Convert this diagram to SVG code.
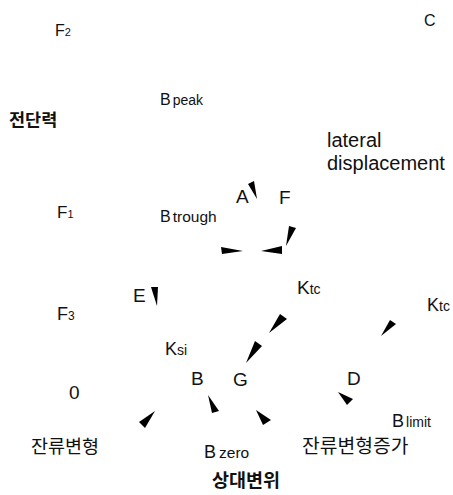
<svg xmlns="http://www.w3.org/2000/svg" width="453" height="495" viewBox="0 0 453 495">
<style>
text{font-family:"Liberation Sans",Arial,sans-serif;fill:#111;}
.m{font-size:19px;}
.s{font-size:14px;}
.ko{font-family:"Noto Sans CJK KR","Noto Sans",sans-serif;fill:#111;}
.b{font-weight:bold;}
.ah{fill:#000;stroke:none;}
</style>
<rect width="453" height="495" fill="#fff"/>
<g id="connectors">
<polygon class="ah" points="248,184 254,181 257,199"/>
<polygon class="ah" points="289,226 296,228 286,246"/>
<polygon class="ah" points="221,247 222,254 243,251"/>
<polygon class="ah" points="261,251 282,246 282,254"/>
<polygon class="ah" points="151,287 158,287 157,306"/>
<polygon class="ah" points="280,314 287,319 269,333"/>
<polygon class="ah" points="255,341 262,346 246,363"/>
<polygon class="ah" points="390,320 396,324 381,336"/>
<polygon class="ah" points="139,422 145,428 155,411"/>
<polygon class="ah" points="208,395 212,413 219,411"/>
<polygon class="ah" points="256,410 263,425 271,420"/>
<polygon class="ah" points="338,392 347,405 353,399"/>
</g>
<g id="F2"><text x="55" y="36" font-size="16">F<tspan font-size="11">2</tspan></text></g>
<g id="C"><text x="424" y="26" font-size="16">C</text></g>
<g id="Bpeak"><text x="160" y="105" font-size="16">B<tspan dx="2" font-size="14">peak</tspan></text></g>
<g id="shear"><text class="ko b" x="9" y="126" font-size="17.5">전단력</text></g>
<g id="lateral"><text x="327" y="147" font-size="20">lateral</text><text x="327" y="170" font-size="20">displacement</text></g>
<g id="A"><text class="m" x="236" y="203">A</text></g>
<g id="F"><text class="m" x="279" y="204">F</text></g>
<g id="F1"><text x="57" y="218" font-size="17">F<tspan font-size="11">1</tspan></text></g>
<g id="Btrough"><text x="160" y="222" font-size="16">B<tspan dx="2" font-size="15.5">trough</tspan></text></g>
<g id="E"><text class="m" x="133" y="302">E</text></g>
<g id="F3"><text x="57" y="320" font-size="18">F<tspan font-size="12">3</tspan></text></g>
<g id="Ktc1"><text x="297" y="294" font-size="19">K<tspan class="s">tc</tspan></text></g>
<g id="Ktc2"><text x="427" y="311" font-size="18">K<tspan class="s">tc</tspan></text></g>
<g id="Ksi"><text x="165" y="355" font-size="18">K<tspan class="s">si</tspan></text></g>
<g id="B"><text class="m" x="191" y="385">B</text></g>
<g id="G"><text class="m" x="233" y="386">G</text></g>
<g id="D"><text class="m" x="347" y="385">D</text></g>
<g id="O"><text class="m" x="69" y="399">0</text></g>
<g id="Blimit"><text x="392" y="427" font-size="18">B<tspan dx="2" class="s">limit</tspan></text></g>
<g id="residual"><text class="ko" x="31" y="453" font-size="18.5">잔류변형</text></g>
<g id="Bzero"><text x="204" y="458" font-size="18">B<tspan dx="3" font-size="15.5">zero</tspan></text></g>
<g id="residualInc"><text class="ko" x="302" y="453" font-size="19.3">잔류변형증가</text></g>
<g id="relDisp"><text class="ko b" x="212" y="487" font-size="18.5">상대변위</text></g>
</svg>
